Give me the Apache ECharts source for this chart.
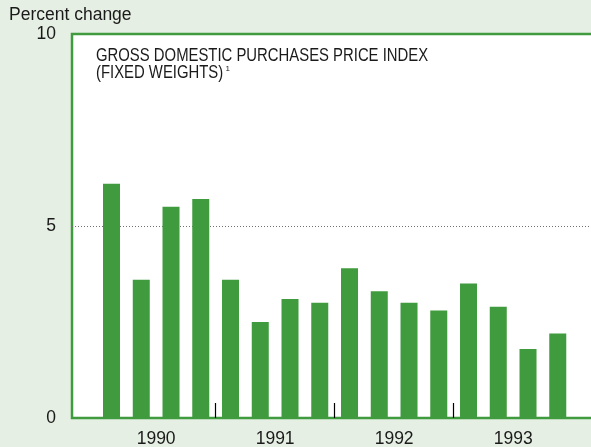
<!DOCTYPE html>
<html>
<head>
<meta charset="utf-8">
<script src="https://cdn.jsdelivr.net/npm/echarts@6/dist/echarts.min.js"></script>
<style>
html,body{margin:0;padding:0;background:#e6efe3;}
#chart{width:591px;height:447px;}
</style>
</head>
<body>
<div id="chart"></div>
<script>
// Data (quarterly percent change, 1990 Q1 - 1993 Q4)
const quarters = ['1990 Q1','1990 Q2','1990 Q3','1990 Q4','1991 Q1','1991 Q2','1991 Q3','1991 Q4','1992 Q1','1992 Q2','1992 Q3','1992 Q4','1993 Q1','1993 Q2','1993 Q3','1993 Q4'];
const values = [6.1, 3.6, 5.5, 5.7, 3.6, 2.5, 3.1, 3.0, 3.9, 3.3, 3.0, 2.8, 3.5, 2.9, 1.8, 2.2];
const years = ['1990', '1991', '1992', '1993'];
const yTicks = [0, 5, 10];
const titleLines = ['GROSS DOMESTIC PURCHASES PRICE INDEX', '(FIXED WEIGHTS)'];
const footnote = '1';
const yAxisTitle = 'Percent change';

const perYear = 4;
const labelPos = years.map((y, k) => k * perYear + (perYear - 1) / 2);
const tickPos = years.slice(1).map((y, k) => (k + 1) * perYear - 0.5);

const chart = echarts.init(document.getElementById('chart'), null, {renderer: 'canvas'});
const font = "'Liberation Sans', Arial, sans-serif";
const green = '#3f9b3d';

chart.setOption({
  animation: false,
  backgroundColor: '#e6efe3',
  grid: {
    left: 72, top: 34, bottom: 29, width: 524,
    outerBoundsMode: 'none', containLabel: false,
    show: true, backgroundColor: '#ffffff',
    borderColor: green, borderWidth: 2.5
  },
  xAxis: {
    type: 'value',
    min: -1.328, max: 16.285,
    axisLine: {show: false},
    splitLine: {show: false},
    axisTick: {
      show: true, inside: true, length: 15,
      customValues: tickPos,
      lineStyle: {color: '#000', width: 1.2}
    },
    axisLabel: {
      customValues: labelPos,
      formatter: v => years[Math.round((v - (perYear - 1) / 2) / perYear)],
      fontFamily: font, fontSize: 17.5, color: '#1a1a1a', margin: 12
    }
  },
  yAxis: {
    type: 'value',
    min: yTicks[0], max: yTicks[yTicks.length - 1], interval: yTicks[1] - yTicks[0],
    axisLine: {show: false},
    axisTick: {show: false},
    axisLabel: {fontFamily: font, fontSize: 17.5, color: '#1a1a1a', margin: 16},
    splitLine: {
      show: true, showMinLine: false, showMaxLine: false,
      lineStyle: {color: '#6f6f6f', type: [1, 2], width: 1}
    }
  },
  graphic: [
    {type: 'text', left: 9, top: 6, style: {text: yAxisTitle, fontFamily: font, fontSize: 17.5, fill: '#1a1a1a'}},
    {type: 'text', x: 96, y: 56.5, scaleX: 0.826, style: {text: titleLines[0], fontFamily: font, fontSize: 18, fill: '#1a1a1a', verticalAlign: 'middle'}},
    {type: 'text', x: 96, y: 73.2, scaleX: 0.826, style: {text: titleLines[1], fontFamily: font, fontSize: 18, fill: '#1a1a1a', verticalAlign: 'middle'}},
    {type: 'text', x: 225.5, y: 69, style: {text: footnote, fontFamily: font, fontSize: 8, fill: '#1a1a1a', verticalAlign: 'middle'}}
  ],
  series: [{
    type: 'bar',
    name: 'Percent change',
    barWidth: 17,
    itemStyle: {color: green},
    data: values.map((v, i) => [i, v])
  }]
});
</script>
</body>
</html>
